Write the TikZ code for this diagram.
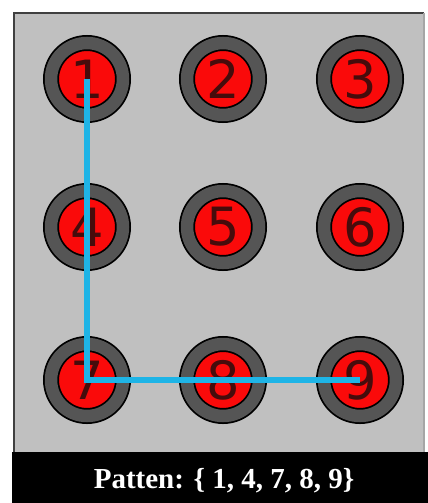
\documentclass[tikz,border=0pt]{standalone}
\usepackage{fontspec}
\usepackage{tikz}
\usetikzlibrary{positioning}
\newfontfamily\padfont{DejaVu Sans}
\newfontfamily\capfont{Liberation Serif}
\definecolor{panelgray}{RGB}{192,192,192}
\definecolor{ringgray}{RGB}{85,85,85}
\definecolor{padred}{RGB}{250,10,10}
\definecolor{digitcol}{RGB}{70,12,12}
\definecolor{swipeblue}{RGB}{30,180,230}
\tikzset{pad/.style={circle,draw=black,line width=1pt,double=ringgray,double distance=0.25cm,fill=padred,minimum size=1.44cm,inner sep=0pt,text=digitcol,font=\padfont\fontsize{30}{30}\selectfont}}
\tikzset{swipe/.style={draw=swipeblue,line width=0.12cm,line join=miter}}

\begin{document}
\begin{tikzpicture}[x=0.02cm,y=-0.02cm,
    caption/.style={text=white,font=\capfont\bfseries\fontsize{16.5}{20}\selectfont},
    ]
    \useasboundingbox (0,0) rectangle (428,503);

    % Panel
    \fill [panelgray] (14,13) rectangle (424,452);
    \draw [black!75,line width=0.04cm] (14,452) -- (14,13) -- (424,13);
    \draw [black!35,line width=0.03cm] (424,13) -- (424,452);

    % Top row
    \node [pad] (dot1) at (87,79) {1};
    \node [pad] (dot2) at (223,79) {2};
    \node [pad] (dot3) at (360,79) {3};

    % Middle row
    \node [pad] (dot4) at (87,227) {4};
    \node [pad] (dot5) at (223,227) {5};
    \node [pad] (dot6) at (360,227) {6};

    % Bottom row
    \node [pad] (dot7) at (87,380) {7};
    \node [pad] (dot8) at (223,380) {8};
    \node [pad] (dot9) at (360,380) {9};

    % Swipe path
    \draw [swipe] (dot1.center) -- (dot4.center) -- (dot7.center) -- (dot8.center) -- (dot9.center);

    % Caption band
    \fill [black] (12,452) rectangle (428,503);
    \node [caption] (label) at (224,481) {Patten: \{ 1, 4, 7, 8, 9\}};

\end{tikzpicture}
\end{document}
